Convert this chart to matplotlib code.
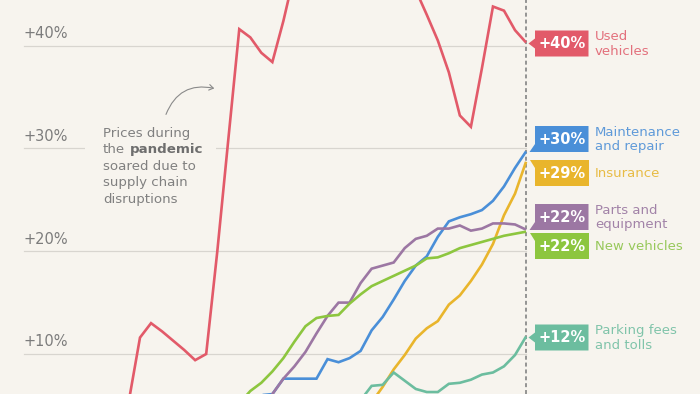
import numpy as np
import matplotlib
matplotlib.use("Agg")
import matplotlib.pyplot as plt
import matplotlib.transforms as mtransforms
from matplotlib.patches import Polygon, Rectangle, FancyArrowPatch

nan = np.nan

# ---------------- data (percent change, month index -2 .. 35) ----------------
months = list(range(-2, 36))

used_vehicles = [2.0, 5.5, 11.6, 13.0, 12.2, 11.3, 10.4, 9.4, 10.0, 19.9,
                 30.8, 41.6, 40.8, 39.3, 38.4, 42.4, 47.0, 49.0, 50.5, 52.0,
                 53.0, 53.5, 53.0, 52.0, 51.0, 49.5, 47.5, 45.4, 43.0, 40.5,
                 37.4, 33.2, 32.1, 37.8, 43.8, 43.4, 41.5, 40.3]

maintenance = [nan, nan, nan, nan, nan, nan, nan, nan, nan, nan,
               nan, nan, 4.5, 6.0, 6.1, 7.6, 7.6, 7.6, 7.6, 9.5,
               9.2, 9.6, 10.3, 12.3, 13.6, 15.3, 17.1, 18.6, 19.5, 21.4,
               22.9, 23.3, 23.6, 24.0, 24.9, 26.3, 28.1, 29.7]

insurance = [nan, nan, nan, nan, nan, nan, nan, nan, nan, nan,
             nan, nan, nan, nan, nan, nan, nan, nan, nan, nan,
             nan, nan, nan, 5.3, 6.8, 8.5, 9.9, 11.5, 12.5, 13.2,
             14.8, 15.7, 17.1, 18.7, 20.7, 23.5, 25.6, 28.7]

parts = [nan, nan, nan, nan, nan, nan, nan, nan, nan, nan,
         nan, nan, nan, 4.8, 6.1, 7.6, 8.8, 10.2, 12.0, 13.7,
         15.0, 15.0, 16.9, 18.3, 18.6, 18.9, 20.3, 21.2, 21.5, 22.2,
         22.2, 22.5, 22.0, 22.2, 22.7, 22.7, 22.6, 22.1]

new_vehicles = [nan, nan, nan, nan, nan, nan, nan, nan, nan, nan,
                nan, 5.2, 6.4, 7.2, 8.3, 9.6, 11.2, 12.7, 13.5, 13.7,
                13.8, 14.9, 15.8, 16.6, 17.1, 17.6, 18.1, 18.6, 19.3, 19.4,
                19.8, 20.3, 20.6, 20.9, 21.2, 21.5, 21.7, 21.9]

parking = [nan, nan, nan, nan, nan, nan, nan, nan, nan, nan,
           nan, nan, nan, nan, nan, nan, nan, nan, nan, nan,
           nan, nan, 5.5, 6.9, 7.0, 8.2, 7.4, 6.6, 6.3, 6.3,
           7.1, 7.2, 7.5, 8.0, 8.2, 8.8, 9.9, 11.7]

series_names = ["Used\nvehicles", "Maintenance\nand repair", "Insurance",
                "Parts and\nequipment", "New vehicles", "Parking fees\nand tolls"]
series_values = [used_vehicles, maintenance, insurance, parts, new_vehicles, parking]
y_ticks = [10, 20, 30, 40]
tick_labels = ["+10%", "+20%", "+30%", "+40%"]

# ---------------- styles ----------------
bg = "#F7F4EE"
grid_c = "#D8D5CF"
tick_c = "#7C7C7C"
note_c = "#808080"
colors = ["#E25A69", "#4A8FD8", "#E9B52C", "#9C77A3", "#8DC63F", "#6CBD9F"]
label_colors = ["#E3707C", "#5F9AD9", "#E8BC45", "#A283A8", "#97C85A", "#80C4AA"]
# label box layout: top pixel of box, pointer position
box_tops = [30.5, 126, 160, 204, 233, 324.5]
pointer = ["mid", "bottom", "top", "bottom", "top", "mid"]

W, H = 700, 394
fig = plt.figure(figsize=(W / 100, H / 100), dpi=100)
fig.patch.set_facecolor(bg)
ax = fig.add_axes([0, 0, 1, 1])
ax.set_facecolor(bg)
for s in ax.spines.values():
    s.set_visible(False)
ax.set_xticks([])
ax.set_yticks([])

# pixel <-> data mapping (layout)
X0, XS = 140.0, 11.03
Y0, YS = 456.8, 10.28
def dx(px):
    return (px - X0) / XS
def dy(py):
    return (Y0 - py) / YS

ax.set_xlim(dx(0), dx(W))
ax.set_ylim(dy(H), dy(0))

# pixel transform (origin top-left)
T = mtransforms.Affine2D().scale(1 / W, -1 / H).translate(0, 1) + fig.transFigure

last_x = months[-1]

# gridlines
for yv, lab in zip(y_ticks, tick_labels):
    ax.plot([dx(24), last_x], [yv, yv], color=grid_c, lw=0.9, zorder=1)
    ax.text(dx(24), yv + 0.45, lab, color=tick_c, fontsize=10.5,
            ha="left", va="bottom", family="DejaVu Sans", zorder=2)

# dashed "now" line
ax.axvline(last_x, color="#8C8C8C", lw=1.3, ls=(0, (2.2, 1.6)), zorder=2)

# annotation background + text
ax.add_patch(Rectangle((85, 118), 131, 92, transform=T, facecolor=bg,
                       edgecolor="none", zorder=3))
note_lines = ["Prices during", None, "soared due to", "supply chain", "disruptions"]
line_y = [133.5, 150, 166.5, 183, 199.5]
for txt, yy in zip(note_lines, line_y):
    if txt is None:
        t = ax.text(103, yy, "the", transform=T, color=note_c, fontsize=9.6,
                    ha="left", va="center", zorder=4)
        ax.annotate("pandemic", xy=(1, 0.5), xycoords=t, xytext=(3.3, 0),
                    textcoords="offset points", color="#6E6E6E", fontsize=9.6,
                    fontweight="bold", ha="left", va="center", zorder=4)
    else:
        ax.text(103, yy, txt, transform=T, color=note_c, fontsize=9.6,
                ha="left", va="center", zorder=4)

arrow = FancyArrowPatch((165, 117), (217, 89), transform=T,
                        connectionstyle="arc3,rad=-0.45", arrowstyle="->,head_length=3,head_width=2",
                        color="#8A8A8A", lw=0.8, zorder=4)
ax.add_patch(arrow)

# lines
for vals, c in zip(series_values, colors):
    ax.plot(months, vals, color=c, lw=1.9, zorder=5, solid_joinstyle="miter",
            solid_capstyle="butt")

# end labels
bx0, bx1, bh = 535, 588.5, 26
for name, vals, c, lc, top, ptr in zip(series_names, series_values, colors,
                                        label_colors, box_tops, pointer):
    v = vals[-1]
    bot = top + bh
    cy = top + bh / 2
    if ptr == "mid":
        pts = [(bx0, top), (bx1, top), (bx1, bot), (bx0, bot),
               (bx0, cy + 5), (528.5, cy), (bx0, cy - 5)]
    elif ptr == "bottom":
        pts = [(bx0, top), (bx1, top), (bx1, bot), (529.5, bot), (bx0, bot - 8)]
    else:
        pts = [(529.5, top), (bx1, top), (bx1, bot), (bx0, bot), (bx0, top + 8)]
    ax.add_patch(Polygon(pts, closed=True, transform=T, facecolor=c,
                         edgecolor="none", zorder=6))
    ax.text((bx0 + bx1) / 2, cy + 0.5, f"+{round(v)}%", transform=T, color="white",
            fontsize=10.5, fontweight="bold", ha="center", va="center", zorder=7)
    ax.text(595, cy + 0.5, name, transform=T, color=lc, fontsize=9.5,
            ha="left", va="center", linespacing=1.15, zorder=7)

fig.savefig("out.png", dpi=100, facecolor=bg)
